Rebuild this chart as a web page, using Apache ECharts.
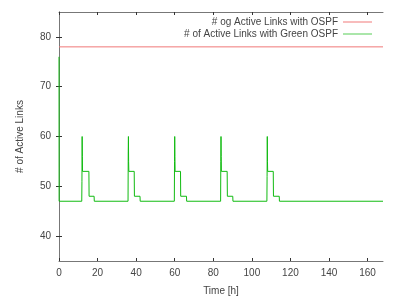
<!DOCTYPE html>
<html><head><meta charset="utf-8">
<script src="https://cdn.jsdelivr.net/npm/echarts@6/dist/echarts.min.js"></script>
<style>html,body{margin:0;padding:0;background:#fff}#c{width:399px;height:299px}</style>
</head><body><div id="c"></div>
<script>
const xTicks = [0, 20, 40, 60, 80, 100, 120, 140, 160];
const yTicks = [40, 50, 60, 70, 80];
const seriesNames = ['# og Active Links with OSPF', '# of Active Links with Green OSPF'];
const ospfTimes = [0, 168];
const ospfValues = [78, 78];
const greenTimes = [0, 0.05,
  11.8, 11.9, 12.0, 12.1, 12.2, 15.5, 15.6, 18.2, 18.3,
  35.8, 35.9, 36.0, 36.1, 36.2, 39.0, 39.1, 42.0, 42.1,
  59.8, 59.9, 60.0, 60.1, 60.2, 63.0, 63.1, 66.1, 66.2,
  83.8, 83.9, 84.0, 84.1, 84.2, 87.2, 87.3, 90.1, 90.2,
  107.8, 107.9, 108.0, 108.1, 108.2, 111.1, 111.2, 114.2, 114.3,
  168];
const greenValues = [76, 47,
  47, 51, 60, 56, 53, 53, 48, 48, 47,
  47, 57, 60, 55, 53, 53, 48, 48, 47,
  47, 55, 60, 56, 53, 53, 48, 48, 47,
  47, 55, 60, 56, 53, 53, 48, 48, 47,
  47, 52, 60, 55, 53, 53, 48, 48, 47,
  47];

const chart = echarts.init(document.getElementById('c'), null, {renderer: 'canvas'});
const font = 'Liberation Sans';
const txt = '#444';
const axisLineStyle = {color: '#777', width: 1};
const tickStyle = {color: '#333', width: 1};
chart.setOption({
  animation: false,
  backgroundColor: '#fff',
  textStyle: {fontFamily: font},
  grid: {left: 59, right: 16, top: 12, bottom: 38, containLabel: false, outerBoundsMode: 'none'},
  legend: {
    right: 22, top: 11, orient: 'vertical', align: 'right',
    itemWidth: 29, itemHeight: 8, itemGap: 0,
    textStyle: {fontFamily: font, fontSize: 10, color: txt, padding: [0, 0, 0, 0], lineHeight: 12},
    data: seriesNames.map(n => ({name: n, icon: 'path://M0,4L29,4L29,5L0,5Z'}))
  },
  xAxis: [{
    type: 'value', min: 0, max: 168,
    name: 'Time [h]', nameLocation: 'middle', nameGap: 25,
    nameTextStyle: {fontFamily: font, fontSize: 10, color: txt},
    axisLine: {show: true, lineStyle: axisLineStyle},
    axisTick: {show: true, inside: true, length: 3, lineStyle: tickStyle, customValues: xTicks},
    axisLabel: {fontFamily: font, fontSize: 10, color: txt, margin: 7, customValues: xTicks},
    splitLine: {show: false}
  }, {
    type: 'value', position: 'top', min: 0, max: 168,
    axisLine: {show: true, lineStyle: axisLineStyle},
    axisTick: {show: true, inside: true, length: 3, lineStyle: tickStyle, customValues: xTicks},
    axisLabel: {show: false}, splitLine: {show: false}
  }],
  yAxis: [{
    type: 'value', min: 35, max: 85,
    name: '# of Active Links', nameLocation: 'middle', nameGap: 34, nameRotate: 90,
    nameTextStyle: {fontFamily: font, fontSize: 10, color: txt},
    axisLine: {show: true, lineStyle: axisLineStyle},
    axisTick: {show: true, inside: true, length: 3, lineStyle: tickStyle, customValues: yTicks},
    axisLabel: {fontFamily: font, fontSize: 10, color: txt, margin: 8, customValues: yTicks},
    splitLine: {show: false}
  }, {
    type: 'value', position: 'right', min: 35, max: 85,
    axisLine: {show: true, lineStyle: axisLineStyle},
    axisTick: {show: true, inside: true, length: 3, lineStyle: tickStyle, customValues: yTicks},
    axisLabel: {show: false}, splitLine: {show: false}
  }],
  series: [{
    name: seriesNames[0], type: 'line', showSymbol: false, symbol: 'none',
    data: ospfTimes.map((t, i) => [t, ospfValues[i]]),
    lineStyle: {color: '#f07878', width: 1}, itemStyle: {color: '#f07878'}
  }, {
    name: seriesNames[1], type: 'line', showSymbol: false, symbol: 'none',
    data: greenTimes.map((t, i) => [t, greenValues[i]]),
    lineStyle: {color: '#11bb11', width: 1}, itemStyle: {color: '#55cc55'}
  }]
});
</script></body></html>
